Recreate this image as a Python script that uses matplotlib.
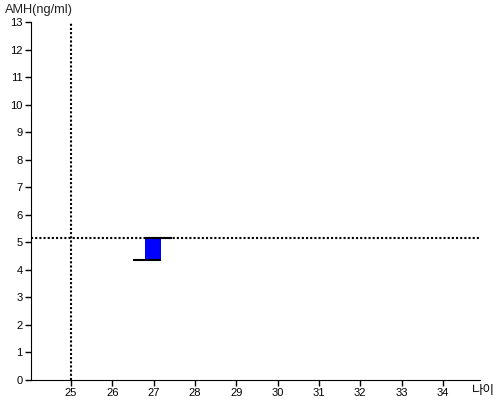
import matplotlib
matplotlib.use("Agg")
import matplotlib.pyplot as plt

plt.rcParams['font.family'] = ['Liberation Sans', 'Noto Sans CJK KR', 'DejaVu Sans']

x_ticks = [25, 26, 27, 28, 29, 30, 31, 32, 33, 34]
y_ticks = list(range(0, 14))

bar_age = [26.98]
bar_low = [4.36]
bar_high = [5.17]
low_line = [26.51, 27.17]
high_line = [26.79, 27.45]
ref_age = 25
ref_amh = 5.17

fig = plt.figure(figsize=(5, 4), dpi=100)
ax = fig.add_axes([0.062, 0.05, 0.898, 0.895])

ax.bar(bar_age, [h - l for h, l in zip(bar_high, bar_low)], bottom=bar_low,
       width=0.38, color='#0000ff', zorder=2)
ax.plot(low_line, [bar_low[0]] * 2, color='black', lw=1.5, zorder=3, solid_capstyle='butt')
ax.plot(high_line, [bar_high[0]] * 2, color='black', lw=1.5, zorder=3, solid_capstyle='butt')

ax.axvline(ref_age, color='black', lw=1.5, linestyle=(0, (1, 1)), zorder=1)
ax.axhline(ref_amh, color='black', lw=1.5, linestyle=(0, (1, 1)), zorder=1)

ax.set_xlim(24.03, 34.9)
ax.set_ylim(0, 13)
ax.set_xticks(x_ticks)
ax.set_yticks(y_ticks)
ax.tick_params(labelsize=8, length=4, width=1, colors='black', pad=2)
for s in ['top', 'right']:
    ax.spines[s].set_visible(False)

fig.text(0.01, 0.975, 'AMH(ng/ml)', fontsize=9.2, ha='left', va='center', color='#222222')
fig.text(0.943, 0.024, '나이', fontsize=9, ha='left', va='center', color='black',
         family=['Noto Sans CJK KR', 'DejaVu Sans'])

fig.savefig('out.png', dpi=100)
